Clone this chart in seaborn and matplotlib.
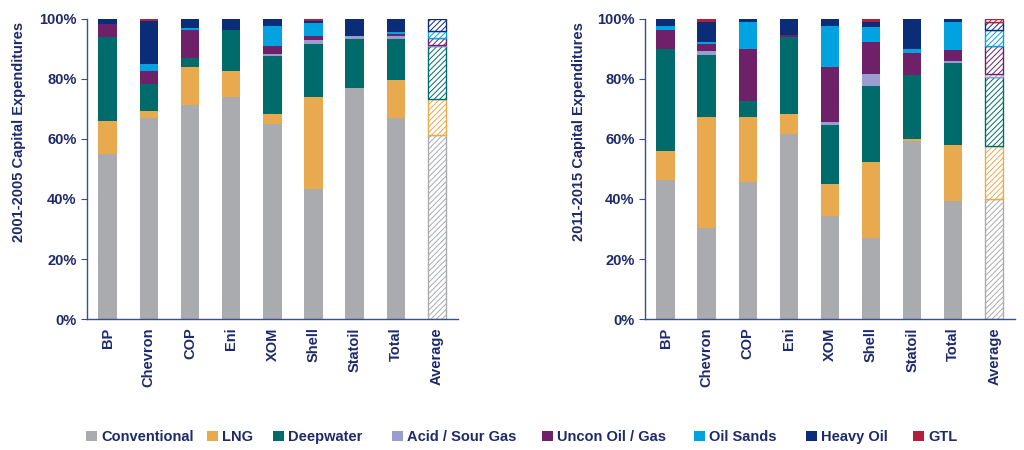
import numpy as np
import pandas as pd
import seaborn as sns
import matplotlib.pyplot as plt
from matplotlib.patches import Patch
from matplotlib.ticker import PercentFormatter, MultipleLocator

companies = ['BP', 'Chevron', 'COP', 'Eni', 'XOM', 'Shell', 'Statoil', 'Total', 'Average']
segments = ['Conventional', 'LNG', 'Deepwater', 'Acid / Sour Gas', 'Uncon Oil / Gas',
            'Oil Sands', 'Heavy Oil', 'GTL']
colors = ['#A9ABAE', '#E8A94F', '#006B6B', '#9B9CD0', '#6E2168', '#00A3E0', '#0B2D78', '#B0203C']

# 2001-2005 shares (%), one list per segment, in company order
conv_0105 = [55.0, 67.0, 71.4, 73.9, 65.0, 43.3, 77.1, 66.9, 61.4]
lng_0105 = [11.0, 2.3, 12.5, 8.8, 3.4, 30.7, 0.0, 12.9, 12.0]
deep_0105 = [28.0, 9.1, 3.1, 13.7, 19.2, 17.7, 16.3, 13.6, 17.5]
acid_0105 = [0.0, 0.0, 0.0, 0.0, 0.8, 1.4, 1.0, 0.8, 0.3]
uncon_0105 = [4.4, 4.3, 9.4, 0.0, 2.5, 1.3, 0.0, 0.8, 2.4]
sands_0105 = [0.0, 2.4, 0.6, 0.0, 6.7, 4.3, 0.0, 0.8, 2.3]
heavy_0105 = [1.6, 14.1, 3.0, 3.6, 2.4, 0.7, 5.6, 4.2, 4.1]
gtl_0105 = [0.0, 0.8, 0.0, 0.0, 0.0, 0.6, 0.0, 0.0, 0.0]

# 2011-2015 shares (%)
conv_1115 = [46.4, 30.3, 45.7, 61.6, 34.3, 27.0, 59.2, 39.2, 40.0]
lng_1115 = [9.7, 37.1, 21.5, 6.8, 10.6, 25.3, 0.9, 18.7, 17.7]
deep_1115 = [33.9, 20.5, 5.4, 25.6, 19.7, 25.4, 21.1, 27.3, 23.0]
acid_1115 = [0.0, 1.5, 0.0, 0.0, 1.1, 4.1, 0.0, 0.7, 1.1]
uncon_1115 = [6.2, 2.2, 17.5, 0.7, 18.4, 10.6, 7.4, 3.7, 9.1]
sands_1115 = [1.4, 0.8, 8.8, 0.0, 13.5, 4.9, 1.5, 9.3, 5.5]
heavy_1115 = [2.4, 6.5, 1.1, 5.3, 2.4, 1.6, 9.9, 1.1, 2.5]
gtl_1115 = [0.0, 1.1, 0.0, 0.0, 0.0, 1.1, 0.0, 0.0, 1.1]

period_0105 = [conv_0105, lng_0105, deep_0105, acid_0105, uncon_0105, sands_0105, heavy_0105, gtl_0105]
period_1115 = [conv_1115, lng_1115, deep_1115, acid_1115, uncon_1115, sands_1115, heavy_1115, gtl_1115]

sns.set_style('white')
plt.rcParams['font.family'] = ['Liberation Sans', 'DejaVu Sans']
plt.rcParams['hatch.linewidth'] = 0.7
navy = '#1F2A6B'
axis_col = '#3A4E8C'

fig = plt.figure(figsize=(10.24, 4.5), dpi=100)
ax1 = fig.add_axes([0.085, 0.291, 0.362, 0.667])
ax2 = fig.add_axes([0.630, 0.291, 0.361, 0.667])


def draw_stack(ax, layers, ylabel, label_x):
    bottom = np.zeros(len(companies))
    for seg, vals, col in zip(segments, layers, colors):
        df = pd.DataFrame({'company': companies, 'share': vals})
        n_before = len(ax.patches)
        sns.barplot(ax=ax, data=df, x='company', y='share', order=companies,
                    color=col, saturation=1, width=0.45, bottom=bottom.copy(),
                    errorbar=None, linewidth=0)
        new = ax.patches[n_before:]
        # Average bar: white with hatch in the segment colour
        avg = new[-1]
        if vals[-1] > 0:
            avg.set_facecolor('white')
            avg.set_edgecolor(col)
            avg.set_hatch('//////')
            avg.set_linewidth(1.0)
        bottom += np.array(vals)
    ax.set_xlim(-0.5, len(companies) - 0.5)
    ax.set_ylim(0, 100)
    ax.yaxis.set_major_locator(MultipleLocator(20))
    ax.yaxis.set_major_formatter(PercentFormatter(decimals=0))
    ax.set_xlabel('')
    ax.set_ylabel(ylabel, fontsize=10.5, fontweight='bold', color=navy)
    ax.yaxis.set_label_coords(label_x, 0.623)
    for s in ['top', 'right']:
        ax.spines[s].set_visible(False)
    for s in ['left', 'bottom']:
        ax.spines[s].set_color(axis_col)
        ax.spines[s].set_linewidth(1.0)
    ax.set_xticks(np.arange(-0.5, len(companies)), minor=True)
    ax.tick_params(axis='x', which='major', length=0, pad=6, labelrotation=90,
                   labelsize=10.5, labelcolor=navy)
    ax.tick_params(axis='x', which='minor', length=4, direction='out', color=axis_col)
    ax.tick_params(axis='y', length=4, direction='out', color=axis_col,
                   labelsize=10.5, labelcolor=navy, left=True)
    for lab in ax.get_xticklabels() + ax.get_yticklabels():
        lab.set_fontweight('bold')


draw_stack(ax1, period_0105, '2001-2005 Capital Expenditures', -0.165)
draw_stack(ax2, period_1115, '2011-2015 Capital Expenditures', -0.16)

# legend entries sit at uneven spacing in the original, so place each one
legend_x = [86, 207, 273, 392, 542, 694, 806, 913]
for seg, col, px in zip(segments, colors, legend_x):
    leg = fig.legend([Patch(facecolor=col, edgecolor='none')], [seg],
                     loc='center left', bbox_to_anchor=(px / 1024, 0.029),
                     frameon=False, borderpad=0, borderaxespad=0,
                     handlelength=0.75, handleheight=0.75, handletextpad=0.3,
                     prop={'size': 10.5, 'weight': 'bold'})
    leg.get_texts()[0].set_color(navy)

fig.savefig('out.png', dpi=100)
